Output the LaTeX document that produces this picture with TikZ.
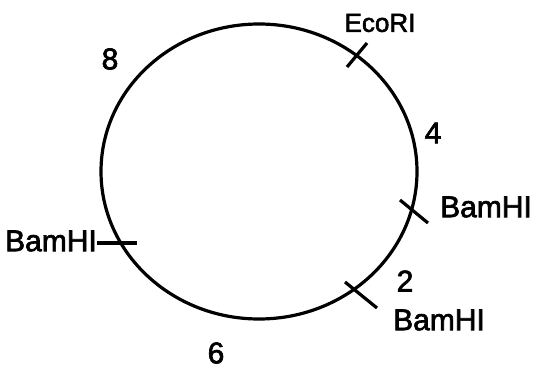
\documentclass[tikz,border=0pt]{standalone}
\usepackage{fontspec}
\setmainfont{Liberation Sans}[FakeBold=2.2]
\begin{document}
\begin{tikzpicture}[x=1pt,y=-1pt,
  lbl/.style={inner sep=0pt,font=\fontsize{30}{32}\selectfont},
  tick/.style={line width=3.2pt},
  ring/.style={line width=3.2pt}]
\useasboundingbox (0,0) rectangle (538,369);
\draw[ring] (259,171.5) ellipse [x radius=158pt, y radius=147.5pt];
% tick end points
\coordinate (e1) at (347,67);  \coordinate (e2) at (367,43);
\coordinate (r1) at (400,200); \coordinate (r2) at (428,223);
\coordinate (b1) at (345,282); \coordinate (b2) at (377,308);
\coordinate (l1) at (97,243);  \coordinate (l2) at (137,243);
\draw[tick] (e1) -- (e2);
\draw[tick] (r1) -- (r2);
\draw[tick] (b1) -- (b2);
\draw[tick] (l1) -- (l2);
% labels
\node[lbl,font=\fontsize{26}{28}\selectfont] (eco) at (380,23) {EcoRI};
\node[lbl] (bamR) at (486,207) {BamHI};
\node[lbl] (bamB) at (439,320) {BamHI};
\node[lbl,anchor=east] (bamL) at (97,241) {BamHI};
\node[lbl] (n2) at (405,281) {2};
\node[lbl] (n4) at (433,133) {4};
\node[lbl] (n6) at (216,353) {6};
\node[lbl] (n8) at (110,59) {8};
\end{tikzpicture}
\end{document}
